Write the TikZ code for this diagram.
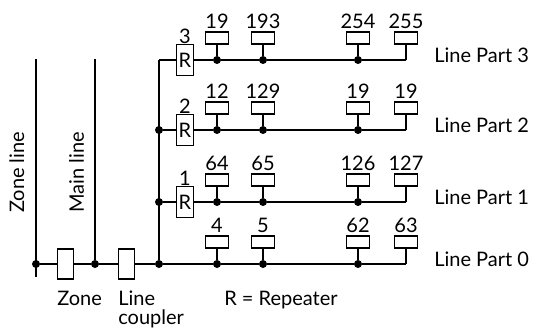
\documentclass[tikz,border=0pt]{standalone}
\usepackage{fontspec}
\setmainfont{Lato}
\tikzset{
  busline/.style={line width=1.2pt},
  dot/.style={circle, fill=black, inner sep=0pt, minimum size=6pt},
  devbox/.style={draw, line width=0.9pt, fill=white, minimum width=17pt, minimum height=9pt, inner sep=0pt},
  rptbox/.style={draw, line width=0.9pt, fill=white, minimum width=12.5pt, minimum height=23pt, inner sep=0pt},
  coupbox/.style={draw, line width=0.9pt, fill=white, minimum width=12.5pt, minimum height=22.5pt, inner sep=0pt},
  lbl/.style={font=\fontsize{15}{17}\selectfont, inner sep=0pt, anchor=base},
  lblw/.style={font=\fontsize{15}{17}\selectfont, inner sep=0pt, anchor=base west}
}
\begin{document}
\begin{tikzpicture}[x=0.75pt, y=-0.75pt]
\useasboundingbox (0,0) rectangle (533,329);

% Zone line und Main line
\coordinate (ztop) at (36,59);
\coordinate (zbot) at (36,277);
\coordinate (mtop) at (95,59);
\coordinate (ltop) at (159,60);
\node[dot] (zdot) at (36,264) {};
\node[dot] (mdot) at (95,264) {};
\node[dot] (jdot0) at (159,264) {};
\node[coupbox] (zone) at (65.5,264) {};
\node[coupbox] (coup) at (126.5,264) {};
\draw[busline] (ztop) -- (zbot);
\draw[busline] (mtop) -- (mdot);
\draw[busline] (zdot) -- (zone) -- (mdot) -- (coup) -- (jdot0);
\draw[busline] (ltop) -- (jdot0);

\node[lblw, rotate=90] (zlab) at (24,213) {Zone line};
\node[lblw, rotate=90] (mlab) at (84,213) {Main line};

% Line Parts
\foreach \row/\yy/\nra/\nrb/\nrc/\nrd in {
  3/60/19/193/254/255,
  2/130/12/129/19/19,
  1/202/64/65/126/127,
  0/264/4/5/62/63} {
  \node[dot] (a\row) at (217,\yy) {};
  \node[dot] (b\row) at (263,\yy) {};
  \node[dot] (c\row) at (358,\yy) {};
  \coordinate (e\row) at (406,\yy);
  \node[devbox] (da\row) at (217,\yy-22) {};
  \node[devbox] (db\row) at (263,\yy-22) {};
  \node[devbox] (dc\row) at (358,\yy-22) {};
  \node[devbox] (dd\row) at (406,\yy-22) {};
  \node[lbl] (na\row) at (217,\yy-32) {\nra};
  \node[lbl] (nb\row) at (263,\yy-32) {\nrb};
  \node[lbl] (nc\row) at (358,\yy-32) {\nrc};
  \node[lbl] (nd\row) at (406,\yy-32) {\nrd};
  \draw[busline] (da\row) -- (a\row);
  \draw[busline] (db\row) -- (b\row);
  \draw[busline] (dc\row) -- (c\row);
  \draw[busline] (dd\row) -- (e\row);
  \node[lblw] (part\row) at (434,\yy+2) {Line Part \row};
}
\draw[busline] (jdot0) -- (a0) -- (b0) -- (c0) -- (e0);

% Repeater
\foreach \row/\yy in {3/60, 2/130, 1/202} {
  \node[rptbox, font=\fontsize{15}{17}\selectfont] (r\row) at (185,\yy) {R};
  \node[lbl] (rn\row) at (185,\yy-17) {\row};
  \draw[busline] (r\row) -- (a\row) -- (b\row) -- (c\row) -- (e\row);
}
\draw[busline] (ltop) -- (r3);
\foreach \row/\yy in {2/130, 1/202} {
  \node[dot] (jdot\row) at (159,\yy) {};
  \draw[busline] (jdot\row) -- (r\row);
}

% Beschriftung
\node[lblw] (zonelab) at (57,305) {Zone};
\node[lblw] (couplab) at (118,305) {Line};
\node[lblw] (couplab2) at (118,324) {coupler};
\node[lblw] (rlab) at (224,305) {R = Repeater};

\end{tikzpicture}
\end{document}
